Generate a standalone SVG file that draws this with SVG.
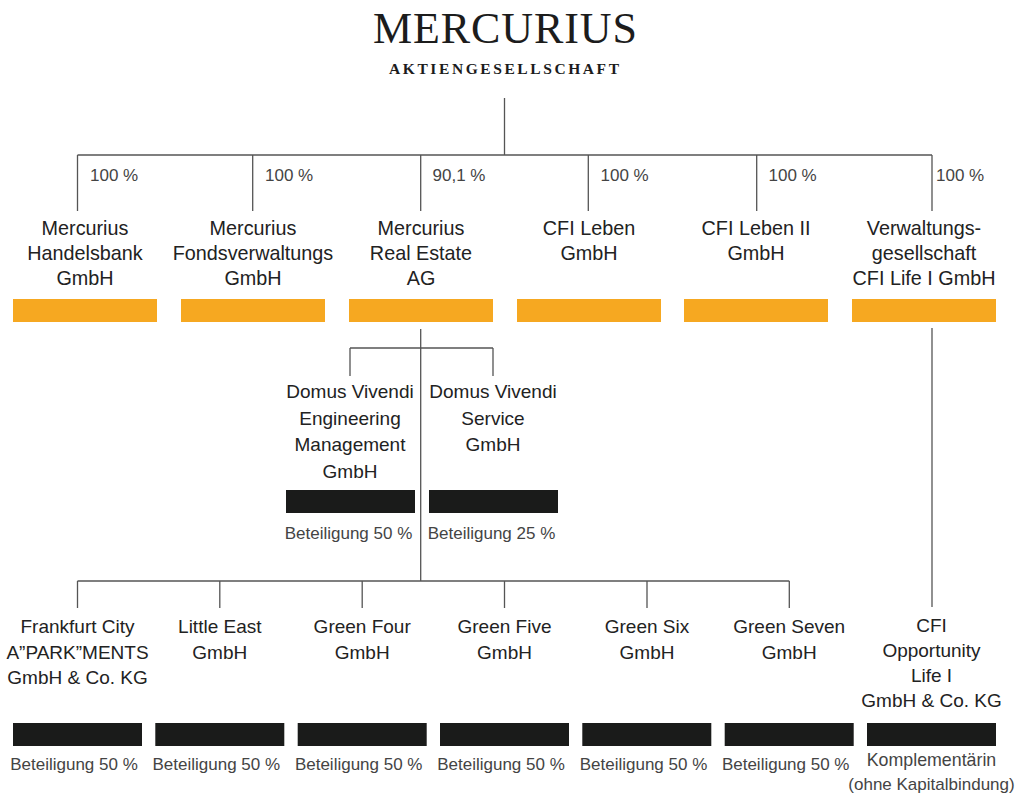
<svg xmlns="http://www.w3.org/2000/svg" width="1022" height="798" viewBox="0 0 1022 798">
<style>
.t{font-family:"Liberation Sans",Arial,sans-serif;font-size:19px;fill:#222;text-anchor:middle}
.tt{font-size:19.8px}
.p{font-family:"Liberation Sans",Arial,sans-serif;font-size:17px;fill:#444}
.b{font-family:"Liberation Sans",Arial,sans-serif;font-size:17px;fill:#444;text-anchor:middle}
.ob{fill:#F6A821}
.bb{fill:#1a1b1a}
.ln{stroke:#555;stroke-width:1.3;fill:none}
</style>
<rect width="1022" height="798" fill="#fff"/>
<g id="header">
<text x="505" y="42.5" font-family="'Liberation Serif',serif" font-size="44" fill="#1c1c1c" text-anchor="middle" textLength="264" lengthAdjust="spacing">MERCURIUS</text>
<text x="504" y="73.5" font-family="'Liberation Serif',serif" font-size="15.5" font-weight="bold" fill="#1c1c1c" text-anchor="middle" textLength="230" lengthAdjust="spacing">AKTIENGESELLSCHAFT</text>
</g>
<g id="connectors">
<path class="ln" d="M504.5 98V155M77.5 155H932M77.5 155V211M252.7 155V211M420.7 155V211M588.3 155V211M756.7 155V211M932 155V211"/>
<path class="ln" d="M420.7 329V581M350 348H493M350 348V376M493 348V376"/>
<path class="ln" d="M77.5 581H789.3M77.5 581V608M219.8 581V608M362.2 581V608M504.5 581V608M647 581V608M789.3 581V608"/>
<path class="ln" d="M932 328V607"/>
</g>
<g id="pct">
<text class="p" x="90" y="181">100 %</text>
<text class="p" x="265" y="181">100 %</text>
<text class="p" x="432.5" y="181">90,1 %</text>
<text class="p" x="600.5" y="181">100 %</text>
<text class="p" x="768.5" y="181">100 %</text>
<text class="p" x="936" y="181">100 %</text>
</g>
<g id="n1"><text class="t tt" y="235"><tspan x="85">Mercurius</tspan><tspan x="85" dy="25">Handelsbank</tspan><tspan x="85" dy="25">GmbH</tspan></text><rect class="ob" x="13" y="299" width="144" height="23"/></g>
<g id="n2"><text class="t tt" y="235"><tspan x="253">Mercurius</tspan><tspan x="253" dy="25">Fondsverwaltungs</tspan><tspan x="253" dy="25">GmbH</tspan></text><rect class="ob" x="181" y="299" width="144" height="23"/></g>
<g id="n3"><text class="t tt" y="235"><tspan x="421">Mercurius</tspan><tspan x="421" dy="25">Real Estate</tspan><tspan x="421" dy="25">AG</tspan></text><rect class="ob" x="349" y="299" width="144" height="23"/></g>
<g id="n4"><text class="t tt" y="235"><tspan x="589">CFI Leben</tspan><tspan x="589" dy="25">GmbH</tspan></text><rect class="ob" x="517" y="299" width="144" height="23"/></g>
<g id="n5"><text class="t tt" y="235"><tspan x="756">CFI Leben II</tspan><tspan x="756" dy="25">GmbH</tspan></text><rect class="ob" x="684" y="299" width="144" height="23"/></g>
<g id="n6"><text class="t tt" y="235"><tspan x="924">Verwaltungs-</tspan><tspan x="924" dy="25">gesellschaft</tspan><tspan x="924" dy="25">CFI Life I GmbH</tspan></text><rect class="ob" x="852" y="299" width="144" height="23"/></g>
<g id="d1"><text class="t" y="398"><tspan x="350">Domus Vivendi</tspan><tspan x="350" dy="26.5">Engineering</tspan><tspan x="350" dy="26.5">Management</tspan><tspan x="350" dy="26.5">GmbH</tspan></text><rect class="bb" x="286" y="490" width="129" height="23"/><text class="b" x="348.5" y="538.5">Beteiligung 50 %</text></g>
<g id="d2"><text class="t" y="398"><tspan x="493">Domus Vivendi</tspan><tspan x="493" dy="26.5">Service</tspan><tspan x="493" dy="26.5">GmbH</tspan></text><rect class="bb" x="429" y="490" width="129" height="23"/><text class="b" x="491.5" y="538.5">Beteiligung 25 %</text></g>
<g id="b1"><text class="t" y="633"><tspan x="77.5">Frankfurt City</tspan><tspan x="77.5" dy="25.5">A”PARK”MENTS</tspan><tspan x="77.5" dy="25.5">GmbH &amp; Co. KG</tspan></text><rect class="bb" x="13" y="723" width="129" height="23"/><text class="b" x="74" y="770">Beteiligung 50 %</text></g>
<g id="b2"><text class="t" y="633"><tspan x="219.8">Little East</tspan><tspan x="219.8" dy="25.5">GmbH</tspan></text><rect class="bb" x="155.3" y="723" width="129" height="23"/><text class="b" x="216.3" y="770">Beteiligung 50 %</text></g>
<g id="b3"><text class="t" y="633"><tspan x="362.2">Green Four</tspan><tspan x="362.2" dy="25.5">GmbH</tspan></text><rect class="bb" x="297.7" y="723" width="129" height="23"/><text class="b" x="358.7" y="770">Beteiligung 50 %</text></g>
<g id="b4"><text class="t" y="633"><tspan x="504.5">Green Five</tspan><tspan x="504.5" dy="25.5">GmbH</tspan></text><rect class="bb" x="440" y="723" width="129" height="23"/><text class="b" x="501" y="770">Beteiligung 50 %</text></g>
<g id="b5"><text class="t" y="633"><tspan x="647">Green Six</tspan><tspan x="647" dy="25.5">GmbH</tspan></text><rect class="bb" x="582.3" y="723" width="129" height="23"/><text class="b" x="643.5" y="770">Beteiligung 50 %</text></g>
<g id="b6"><text class="t" y="633"><tspan x="789.2">Green Seven</tspan><tspan x="789.2" dy="25.5">GmbH</tspan></text><rect class="bb" x="724.7" y="723" width="129" height="23"/><text class="b" x="785.7" y="770">Beteiligung 50 %</text></g>
<g id="b7"><text class="t" y="632"><tspan x="931.5">CFI</tspan><tspan x="931.5" dy="25">Opportunity</tspan><tspan x="931.5" dy="25">Life I</tspan><tspan x="931.5" dy="25">GmbH &amp; Co. KG</tspan></text><rect class="bb" x="867" y="723" width="129" height="23"/><text class="b" y="765.5"><tspan x="931.5" font-size="17.8">Komplementärin</tspan><tspan x="931.5" dy="24.5">(ohne Kapitalbindung)</tspan></text></g>
</svg>
